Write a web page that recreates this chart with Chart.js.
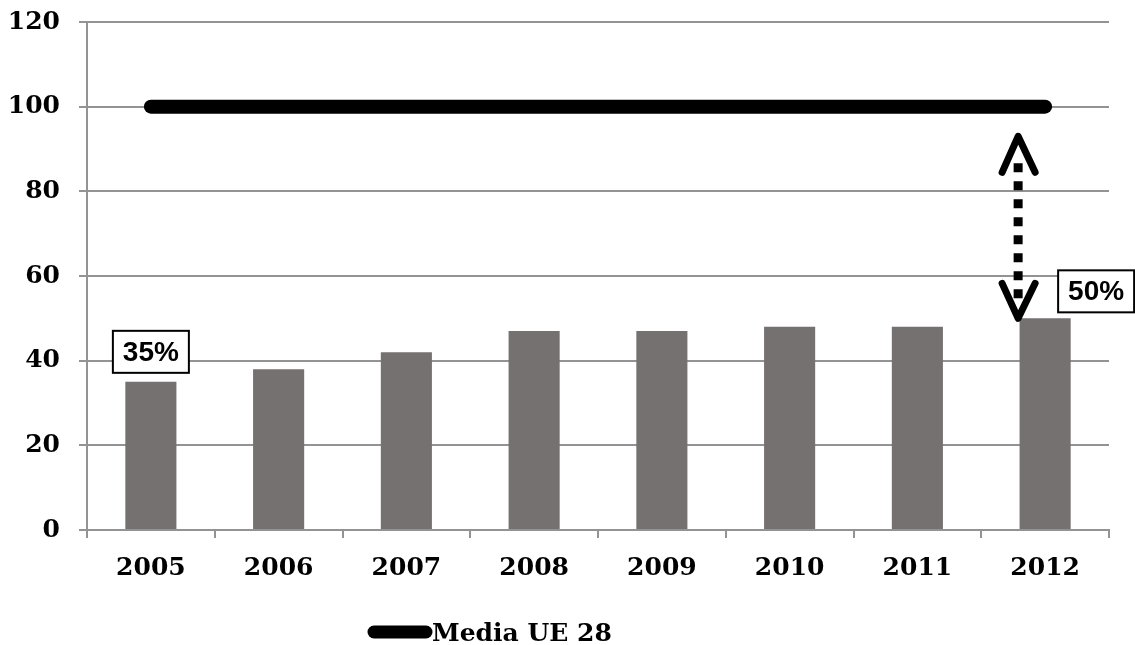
<!DOCTYPE html>
<html>
<head>
<meta charset="utf-8">
<script src="https://cdn.jsdelivr.net/npm/chart.js@4"></script>
<style>
  body { margin: 0; background: #fff; }
  #wrap { width: 1135px; height: 645px; position: relative; }
</style>
</head>
<body>
<div id="wrap"><canvas id="chart"></canvas></div>
<script>
// Data
const years = ["2005", "2006", "2007", "2008", "2009", "2010", "2011", "2012"];
const shareValues = [35, 38, 42, 47, 47, 48, 48, 50];
const euAverage = [100, 100, 100, 100, 100, 100, 100, 100];
const euLabel = "Media UE 28";
const calloutIndexes = [0, 7];      // bars that get a boxed % label
const gapArrowRange = [50, 93];     // dotted double arrow, from/to value

const gridGray = "#939393";
const serifBold = { family: "'DejaVu Serif', serif", size: 25, weight: "bold" };

// boxed labels + dotted gap arrow
const annotations = {
  id: "annotations",
  afterDatasetsDraw(chart) {
    const ctx = chart.ctx, xs = chart.scales.x, ys = chart.scales.y;
    ctx.save();
    ctx.font = "bold 28px 'Liberation Sans', Arial, sans-serif";
    ctx.textAlign = "center";
    ctx.textBaseline = "middle";
    calloutIndexes.forEach(function (i, n) {
      const cx = xs.getPixelForValue(i) + (n === 0 ? 0 : 51);
      const top = ys.getPixelForValue(shareValues[i]);
      const cy = n === 0 ? top - 30 : top - 27;
      const w = 76, h = 42;
      ctx.fillStyle = "#fff";
      ctx.fillRect(cx - w / 2, cy - h / 2, w, h);
      ctx.lineWidth = 2;
      ctx.strokeStyle = "#000";
      ctx.strokeRect(cx - w / 2, cy - h / 2, w, h);
      ctx.fillStyle = "#000";
      ctx.fillText(shareValues[i] + "%", cx, cy + 1);
    });

    // dotted double arrow between the last bar and the EU average
    const ax = xs.getPixelForValue(7) - 27;
    const yLow = ys.getPixelForValue(gapArrowRange[0]);
    const yHigh = ys.getPixelForValue(gapArrowRange[1]);
    ctx.strokeStyle = "#000";
    ctx.lineWidth = 9;
    ctx.lineCap = "butt";
    ctx.setLineDash([9, 9]);
    ctx.beginPath();
    ctx.moveTo(ax, yHigh + 27);
    ctx.lineTo(ax, yLow - 15);
    ctx.stroke();
    ctx.setLineDash([]);
    ctx.lineWidth = 7;
    ctx.lineCap = "round";
    ctx.lineJoin = "round";
    ctx.beginPath();
    ctx.moveTo(ax - 16, yHigh + 36);
    ctx.lineTo(ax, yHigh);
    ctx.lineTo(ax + 17, yHigh + 36);
    ctx.moveTo(ax - 16, yLow - 35);
    ctx.lineTo(ax, yLow);
    ctx.lineTo(ax + 17, yLow - 35);
    ctx.stroke();
    ctx.restore();
  },
};

// legend drawn like the original: thick line then text
const lineLegend = {
  id: "lineLegend",
  afterDraw(chart) {
    const ctx = chart.ctx;
    ctx.save();
    ctx.strokeStyle = "#000";
    ctx.lineWidth = 13;
    ctx.lineCap = "round";
    ctx.beginPath();
    ctx.moveTo(374, 632);
    ctx.lineTo(426, 632);
    ctx.stroke();
    ctx.fillStyle = "#000";
    ctx.font = "bold 25px 'DejaVu Serif', serif";
    ctx.textBaseline = "alphabetic";
    ctx.fillText(euLabel, 432, 641);
    ctx.restore();
  },
};

new Chart(document.getElementById("chart"), {
  data: {
    labels: years,
    datasets: [
      {
        type: "line",
        label: euLabel,
        data: euAverage,
        borderColor: "#000",
        borderWidth: 14,
        borderCapStyle: "round",
        pointRadius: 0,
        order: 0,
      },
      {
        type: "bar",
        label: "Italia",
        data: shareValues,
        backgroundColor: "#767171",
        barPercentage: 0.4,
        categoryPercentage: 1,
        order: 1,
      },
    ],
  },
  options: {
    responsive: true,
    maintainAspectRatio: false,
    animation: false,
    layout: { padding: { top: 22, right: 26, left: 0, bottom: 0 } },
    plugins: { legend: { display: false }, tooltip: { enabled: false } },
    scales: {
      x: {
        offset: true,
        grid: {
          offset: true,
          drawOnChartArea: false,
          tickLength: 8,
          color: gridGray,
          lineWidth: 2,
        },
        border: { color: gridGray, width: 2 },
        ticks: { color: "#000", font: serifBold, padding: 15, maxRotation: 0 },
        afterFit(scale) {
          scale.height = 115;
          scale.paddingLeft = 0;
          scale.paddingRight = 0;
        },
      },
      y: {
        min: 0,
        max: 120,
        ticks: { stepSize: 20, color: "#000", font: serifBold, padding: 19 },
        grid: { color: gridGray, lineWidth: 2, tickLength: 8 },
        border: { color: gridGray, width: 2 },
        afterFit(scale) {
          scale.width = 87;
          scale.paddingTop = 0;
          scale.paddingBottom = 0;
        },
      },
    },
  },
  plugins: [annotations, lineLegend],
});
</script>
</body>
</html>
